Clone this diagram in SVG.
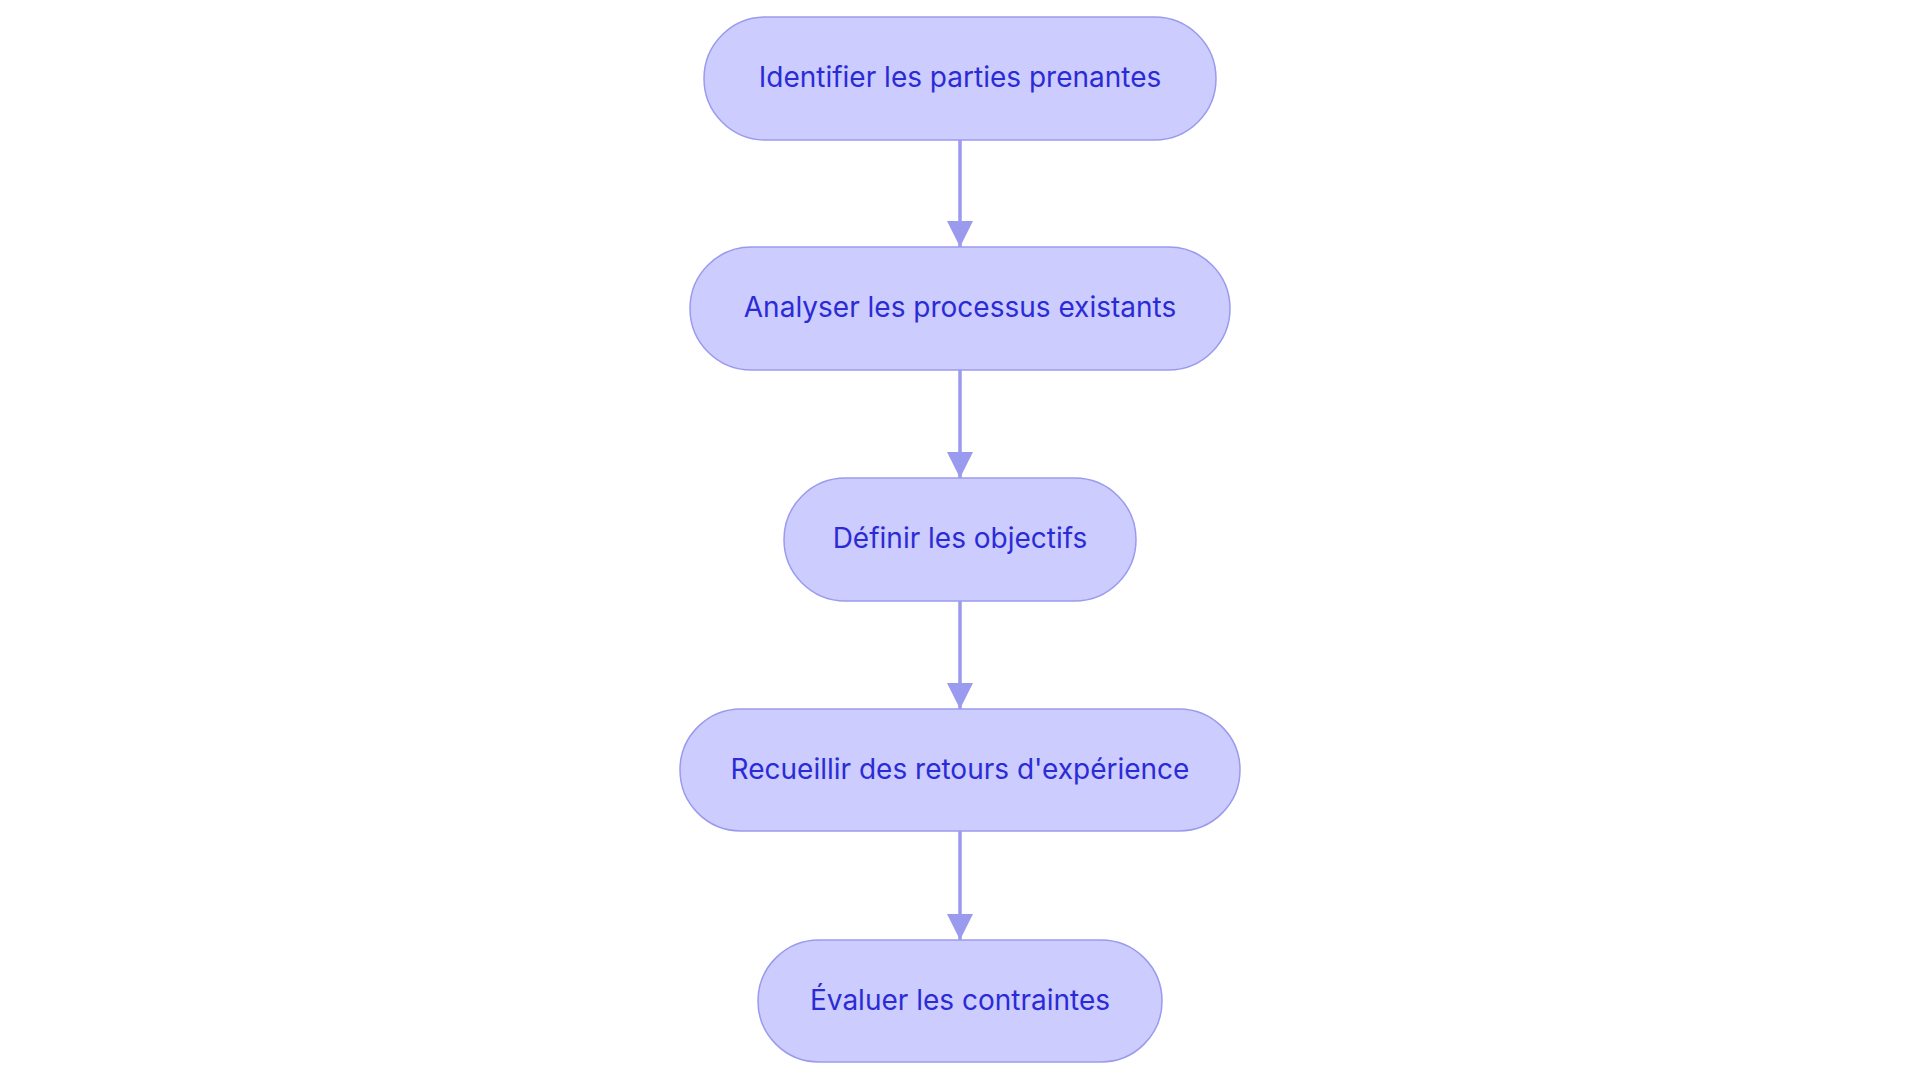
<svg xmlns="http://www.w3.org/2000/svg" width="1920" height="1083" viewBox="0 0 1920 1083">
<style>
.n rect{fill:#ccccff;stroke:#9a9aee;stroke-width:1.5}
.n text{font-family:Inter,"Liberation Sans",sans-serif;font-size:28px;fill:#2b2bd6;text-anchor:middle;dominant-baseline:central}
.c line{stroke:#9a9aee;stroke-width:3.5}
</style>
<defs><marker id="a" markerWidth="8" markerHeight="8" refX="6" refY="4" orient="auto" markerUnits="userSpaceOnUse" viewBox="0 0 8 8"><path d="M0,0 L8,4 L0,8 z" fill="#9a9aee"/></marker>
<marker id="h" viewBox="0 0 10 10" refX="10" refY="5" markerWidth="26" markerHeight="26" markerUnits="userSpaceOnUse" orient="auto"><path d="M0,0 L10,5 L0,10 z" fill="#9a9aee"/></marker></defs>
<rect width="1920" height="1083" fill="#fff"/>
<g class="c">
<line x1="960" y1="140" x2="960" y2="247" marker-end="url(#h)"/>
<line x1="960" y1="370" x2="960" y2="478" marker-end="url(#h)"/>
<line x1="960" y1="601" x2="960" y2="709" marker-end="url(#h)"/>
<line x1="960" y1="831" x2="960" y2="940" marker-end="url(#h)"/>
</g>
<g id="n1" class="n"><rect x="704" y="17" width="512" height="123" rx="61.5"/><text x="960" y="77">Identifier les parties prenantes</text></g>
<g id="n2" class="n"><rect x="690" y="247" width="540" height="123" rx="61.5"/><text x="960" y="307">Analyser les processus existants</text></g>
<g id="n3" class="n"><rect x="784" y="478" width="352" height="123" rx="61.5"/><text x="960" y="538">Définir les objectifs</text></g>
<g id="n4" class="n"><rect x="680" y="709" width="560" height="122" rx="61"/><text x="960" y="769">Recueillir des retours d'expérience</text></g>
<g id="n5" class="n"><rect x="758" y="940" width="404" height="122" rx="61"/><text x="960" y="1000">Évaluer les contraintes</text></g>
</svg>
